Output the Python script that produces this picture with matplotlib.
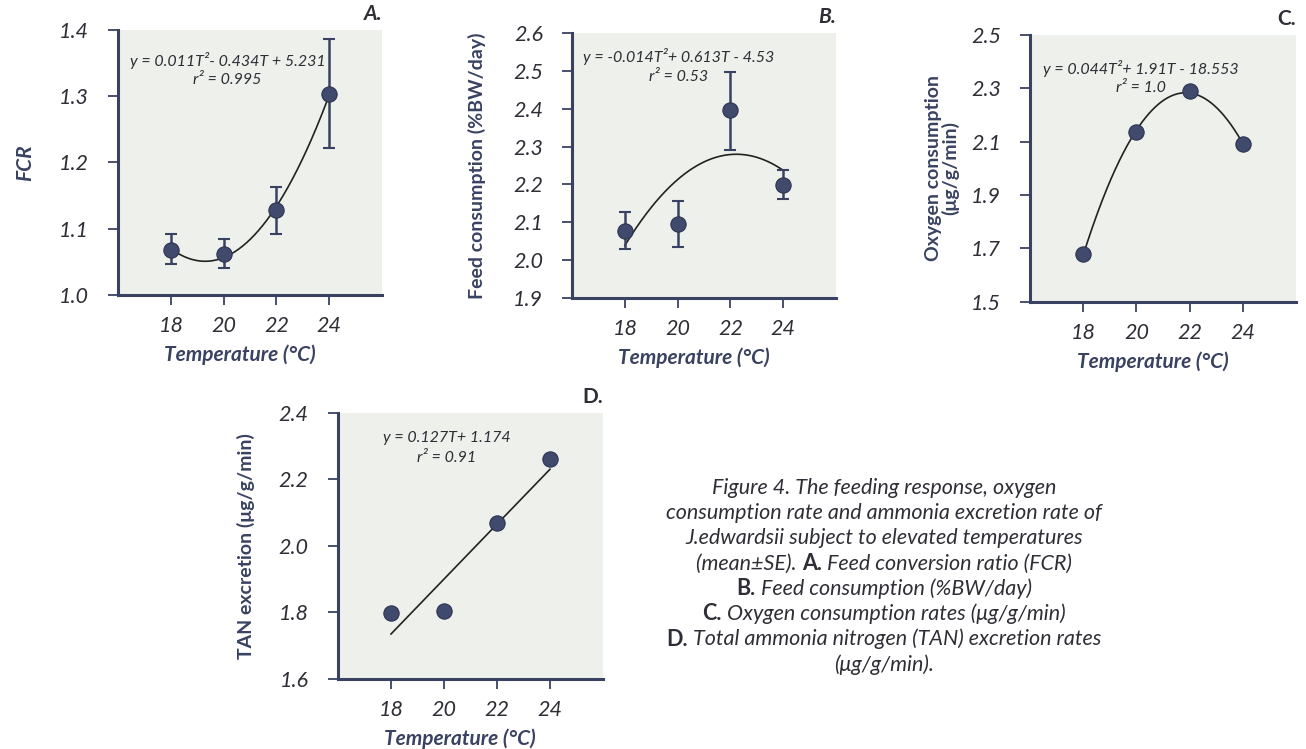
import numpy as np
import matplotlib.pyplot as plt

plt.rcParams['font.family'] = ['Lato', 'DejaVu Sans']

temps = [18, 20, 22, 24]

# A. feed conversion ratio
fcr = [1.068, 1.062, 1.128, 1.303]
fcr_lo = [1.047, 1.040, 1.092, 1.222]
fcr_hi = [1.092, 1.085, 1.162, 1.385]

# B. feed consumption
feed = [2.078, 2.095, 2.397, 2.198]
feed_lo = [2.029, 2.034, 2.291, 2.161]
feed_hi = [2.128, 2.156, 2.498, 2.238]

# C. oxygen consumption
oxy = [1.678, 2.135, 2.291, 2.090]

# D. TAN excretion
tan = [1.798, 1.805, 2.068, 2.261]

navy = '#3a4262'
dot = '#3f4a6c'
bg = '#eef0ec'
txt = '#2e2e36'


def panel(rect, y, ylim, yticks, label, eq, r2, eq_xy, ylabel, deg,
          lo=None, hi=None, label_italic=True, ylabel_x=-0.33):
    ax = fig.add_axes(rect)
    ax.set_facecolor(bg)
    for s in ['top', 'right']:
        ax.spines[s].set_visible(False)
    for s in ['left', 'bottom']:
        ax.spines[s].set_color(navy)
        ax.spines[s].set_linewidth(2.2)
    ax.set_xlim(16, 26)
    ax.set_ylim(*ylim)
    ax.set_xticks(temps)
    ax.set_yticks(yticks)
    ax.set_yticklabels(['%.1f' % v for v in yticks])
    ax.tick_params(axis='y', length=7, width=1.3, color=navy, pad=14,
                   labelsize=15.5, labelcolor=txt)
    ax.tick_params(axis='x', length=7, width=1.3, color=navy, pad=8,
                   labelsize=15.5, labelcolor=txt)
    for t in ax.get_xticklabels() + ax.get_yticklabels():
        t.set_fontstyle('italic')

    # fitted trend line
    coef = np.polyfit(temps, y, deg)
    tt = np.linspace(temps[0], temps[-1], 200)
    ax.plot(tt, np.polyval(coef, tt), color='#222', lw=1.2, zorder=2)

    if lo is not None:
        yerr = [np.array(y) - np.array(lo), np.array(hi) - np.array(y)]
        ax.errorbar(temps, y, yerr=yerr, fmt='none', ecolor=navy,
                    elinewidth=1.8, capsize=4, capthick=1.5, zorder=3)
    ax.plot(temps, y, 'o', ms=11, color=dot, mec='#2c3450', mew=0.8, zorder=4)

    ax.text(eq_xy[0], eq_xy[1], eq, transform=ax.transAxes, ha='center',
            va='center', fontsize=11.5, style='italic', color=txt)
    ax.text(eq_xy[0], eq_xy[1] - 0.075, r2, transform=ax.transAxes,
            ha='center', va='center', fontsize=11.5, style='italic', color=txt)
    ax.text(1.0, 1.06, label, transform=ax.transAxes, ha='right',
            va='center', fontsize=15, fontweight='bold', color=txt,
            style='italic' if label_italic else 'normal')

    ax.set_xlabel('Temperature (°C)', fontsize=15, fontweight='bold',
                  style='italic', color=navy)
    ax.xaxis.set_label_coords(0.46, -0.185)
    ax.set_ylabel(ylabel, fontsize=14, fontweight='bold', color=navy,
                  linespacing=0.95)
    ax.yaxis.set_label_coords(ylabel_x, 0.5)
    return ax


fig = plt.figure(figsize=(13.06, 7.49), dpi=100)

axA = panel([0.0904, 0.6061, 0.2021, 0.3545], fcr, (1.0, 1.4),
            [1.0, 1.1, 1.2, 1.3, 1.4], 'A.',
            'y = 0.011T²- 0.434T + 5.231', 'r² = 0.995', (0.415, 0.885),
            'FCR', 2, fcr_lo, fcr_hi, ylabel_x=-0.315)
axA.yaxis.label.set_style('italic')
axA.yaxis.label.set_fontsize(15)

axB = panel([0.438, 0.6021, 0.2021, 0.3538], feed, (1.9, 2.6),
            [1.9, 2.0, 2.1, 2.2, 2.3, 2.4, 2.5, 2.6], 'B.',
            'y = -0.014T²+ 0.613T - 4.53', 'r² = 0.53', (0.405, 0.91),
            'Feed consumption (%BW/day)', 2, feed_lo, feed_hi,
            ylabel_x=-0.325)

axC = panel([0.7887, 0.5972, 0.2037, 0.3560], oxy, (1.5, 2.5),
            [1.5, 1.7, 1.9, 2.1, 2.3, 2.5], 'C.',
            'y = 0.044T²+ 1.91T - 18.553', 'r² = 1.0', (0.415, 0.875),
            'Oxygen consumption\n(μg/g/min)', 2, label_italic=False,
            ylabel_x=-0.265)

axD = panel([0.2588, 0.0935, 0.2029, 0.3551], tan, (1.6, 2.4),
            [1.6, 1.8, 2.0, 2.2, 2.4], 'D.',
            'y = 0.127T+ 1.174', 'r² = 0.91', (0.41, 0.905),
            'TAN excretion (μg/g/min)', 1, label_italic=False,
            ylabel_x=-0.315)

# caption, mixed bold / italic runs, centred line by line
caption = [
    [('Figure 4. The feeding response, oxygen', 0)],
    [('consumption rate and ammonia excretion rate of', 0)],
    [('J.edwardsii subject to elevated temperatures', 0)],
    [('(mean±SE). ', 0), ('A.', 1), (' Feed conversion ratio (FCR)', 0)],
    [('B.', 1), (' Feed consumption (%BW/day)', 0)],
    [('C.', 1), (' Oxygen consumption rates (μg/g/min)', 0)],
    [('D.', 1), (' Total ammonia nitrogen (TAN) excretion rates', 0)],
    [('(μg/g/min).', 0)],
]
cx, cy, dy = 884, 488, 25.2
renderer = fig.canvas.get_renderer()
for i, runs in enumerate(caption):
    y_px = 749 - (cy + i * dy)
    arts = []
    for s, bold in runs:
        t = fig.text(0, y_px / 749, s, fontsize=15.5, color=txt, va='center',
                     ha='left', fontweight='bold' if bold else 'normal',
                     style='normal' if bold else 'italic')
        arts.append(t)
    widths = [a.get_window_extent(renderer).width for a in arts]
    x = cx - sum(widths) / 2
    for a, w in zip(arts, widths):
        a.set_x(x / 1306)
        x += w

fig.savefig('out.png', dpi=100)
